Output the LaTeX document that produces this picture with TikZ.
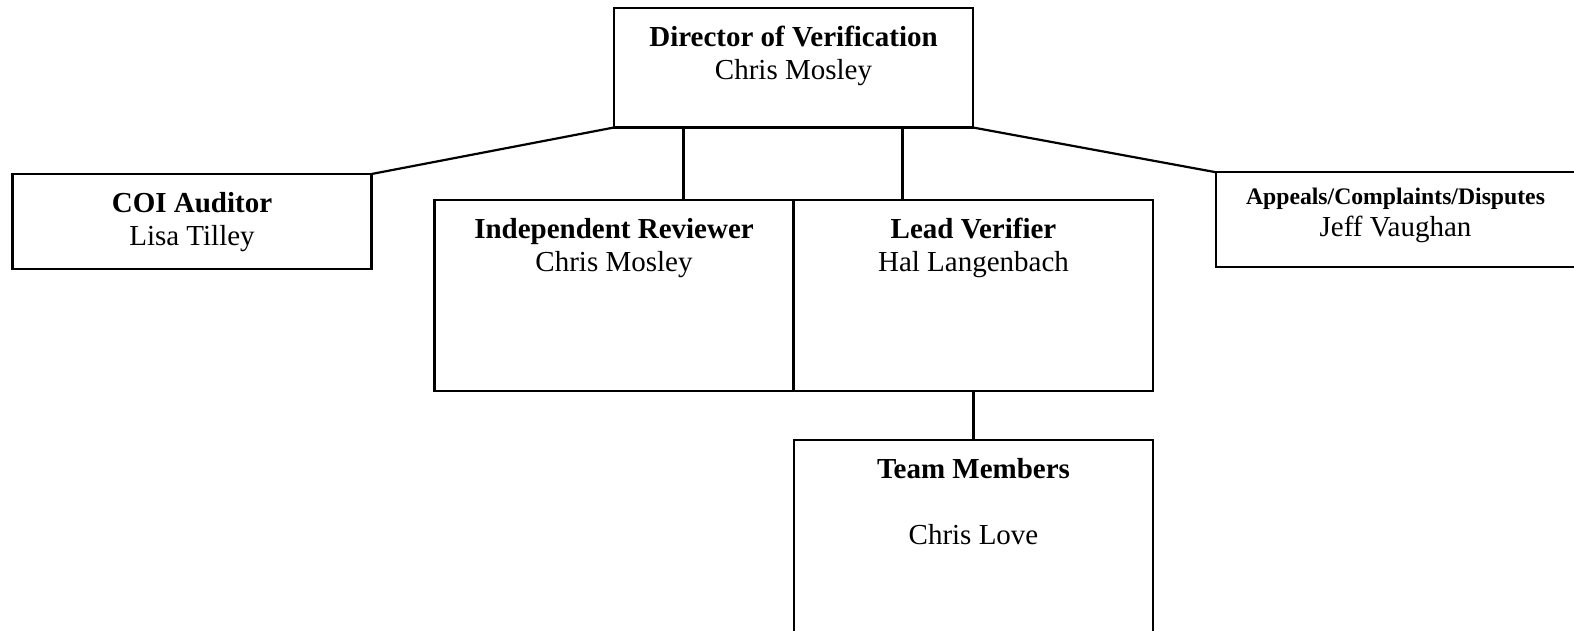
\documentclass[tikz,border=0pt]{standalone}
\usepackage{fontspec}
\setmainfont{Liberation Serif}
\usepackage{tikz}
\usetikzlibrary{positioning}

\tikzset{
    box/.style={draw, line width=2.2pt, outer sep=0pt, inner sep=0pt, minimum width=359pt},
    shortbox/.style={box, minimum height=95pt},
    topbox/.style={box, minimum height=119.5pt},
    tallbox/.style={box, minimum height=191pt},
    title/.style={anchor=base, inner sep=0pt, font=\fontsize{29pt}{33pt}\selectfont\bfseries},
    smalltitle/.style={anchor=base, inner sep=0pt, font=\fontsize{23.7pt}{28pt}\selectfont\bfseries},
    person/.style={anchor=base, inner sep=0pt, font=\fontsize{29pt}{33pt}\selectfont},
    link/.style={line width=2.2pt},
    thicklink/.style={line width=3.2pt}
}

\begin{document}
\begin{tikzpicture}[x=1pt, y=-1pt]

        \useasboundingbox (0,0) rectangle (1574,630);
        \clip (0,0) rectangle (1574,630);

        % Director
        \node[topbox] (dir) at (793.5,67.75) {};
        \node[title] (dirtitle) at (793.5,46) {Director of Verification};
        \node[person] (dirname) at (793.5,79) {Chris Mosley};

        % COI auditor
        \node[shortbox] (coi) at (192,221.5) {};
        \node[title] (coititle) at (192,212.5) {COI Auditor};
        \node[person] (coiname) at (192,245.5) {Lisa Tilley};

        % Independent reviewer
        \node[tallbox] (rev) at (614,295.5) {};
        \node[title] (revtitle) at (614,238.5) {Independent Reviewer};
        \node[person] (revname) at (614,271.5) {Chris Mosley};

        % Lead verifier
        \node[tallbox] (lead) at (973.5,295.5) {};
        \node[title] (leadtitle) at (973.5,238.5) {Lead Verifier};
        \node[person] (leadname) at (973.5,271.5) {Hal Langenbach};

        % Appeals
        \node[shortbox] (app) at (1395.5,219.75) {};
        \node[smalltitle] (apptitle) at (1395.5,204.3) {Appeals/Complaints/Disputes};
        \node[person] (appname) at (1395.5,236.5) {Jeff Vaughan};

        % Team members
        \node[tallbox, minimum height=197pt] (team) at (973.5,538.5) {};
        \node[title] (teamtitle) at (973.5,478.5) {Team Members};
        \node[person] (teamname) at (973.5,544.5) {Chris Love};

        % Lines
        \draw[link] (dir.south west) -- (coi.north east);
        \draw[link] (dir.south east) -- (app.north west);
        \draw[link] ([xshift=69.5pt]rev.north) -- ([xshift=69.5pt]rev.north |- dir.south);
        \draw[thicklink] ([xshift=-71pt]lead.north) -- ([xshift=-71pt]lead.north |- dir.south);
        \draw[thicklink] (lead.south) -- (team.north);

\end{tikzpicture}
\end{document}
